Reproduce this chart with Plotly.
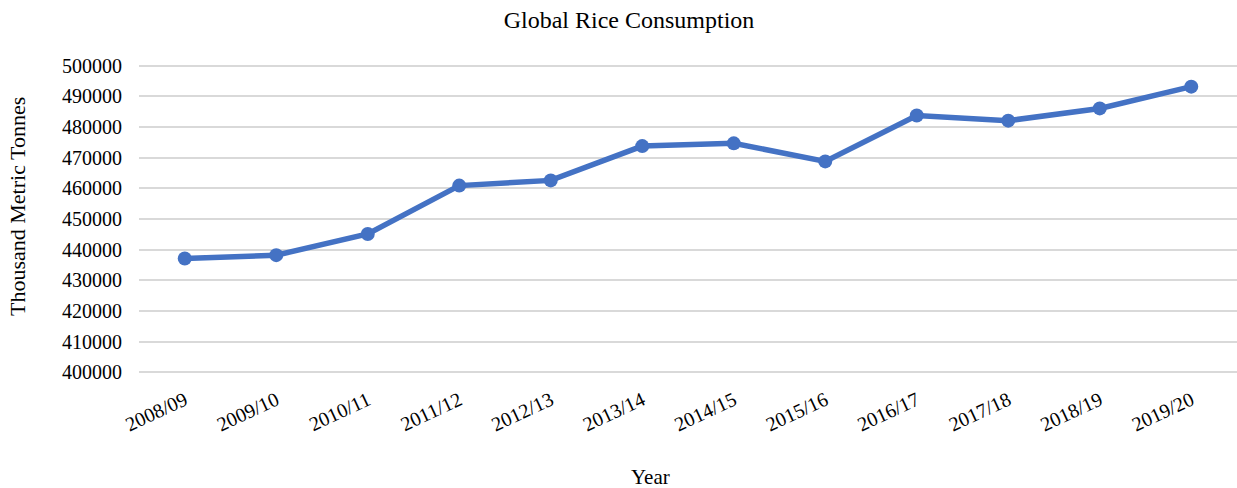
import plotly.graph_objects as go

years = ["2008/09", "2009/10", "2010/11", "2011/12", "2012/13", "2013/14",
         "2014/15", "2015/16", "2016/17", "2017/18", "2018/19", "2019/20"]
consumption = [437100, 438200, 445100, 460900, 462600, 473800,
               474700, 468800, 483800, 482100, 486100, 493200]
y_ticks = [400000, 410000, 420000, 430000, 440000, 450000,
           460000, 470000, 480000, 490000, 500000]

FONT = "Liberation Serif, Times New Roman, serif"
BLUE = "#4472C4"

W, H = 1237, 488
L, R, T, B = 139, 0, 64, 114
PW, PH = W - L - R, H - T - B
BOTTOM = H - B

fig = go.Figure()
fig.add_trace(go.Scatter(
    x=years, y=consumption, mode="lines+markers",
    line=dict(color=BLUE, width=5.5),
    marker=dict(color=BLUE, size=14),
    showlegend=False, hoverinfo="x+y",
))

fig.update_layout(
    width=W, height=H,
    margin=dict(l=L, r=R, t=T, b=B),
    paper_bgcolor="white", plot_bgcolor="white",
    font=dict(family=FONT, color="black", size=20),
    title=dict(text="Global Rice Consumption", x=629 / W, xanchor="center",
               y=1 - 20 / H, yanchor="middle", xref="container", yref="container",
               font=dict(family=FONT, size=24, color="black")),
    xaxis=dict(
        type="category", categoryorder="array", categoryarray=years,
        range=[-0.5, len(years) - 0.5],
        showgrid=False, zeroline=False, showline=False,
        tickangle=-25, tickfont=dict(family=FONT, size=20, color="black"),
        ticks="", ticklabelstandoff=10,
    ),
    yaxis=dict(
        range=[399400, 500600], tickvals=y_ticks,
        ticktext=[str(v) for v in y_ticks],
        showgrid=True, gridcolor="#D9D9D9", gridwidth=1.5,
        zeroline=False, showline=False, ticks="",
        tickfont=dict(family=FONT, size=20, color="black"),
        ticklabelstandoff=16,
    ),
    annotations=[
        dict(text="Thousand Metric Tonnes", textangle=-90,
             x=(17 - L) / PW, y=(BOTTOM - 207) / PH, xref="paper", yref="paper",
             xanchor="center", yanchor="middle", showarrow=False,
             font=dict(family=FONT, size=22, color="black")),
        dict(text="Year",
             x=(650 - L) / PW, y=(BOTTOM - 477) / PH, xref="paper", yref="paper",
             xanchor="center", yanchor="middle", showarrow=False,
             font=dict(family=FONT, size=21, color="black")),
    ],
)

fig.write_html("out.html", config={"displayModeBar": False},
               post_script="document.body.style.margin='0';document.body.style.padding='0';")
